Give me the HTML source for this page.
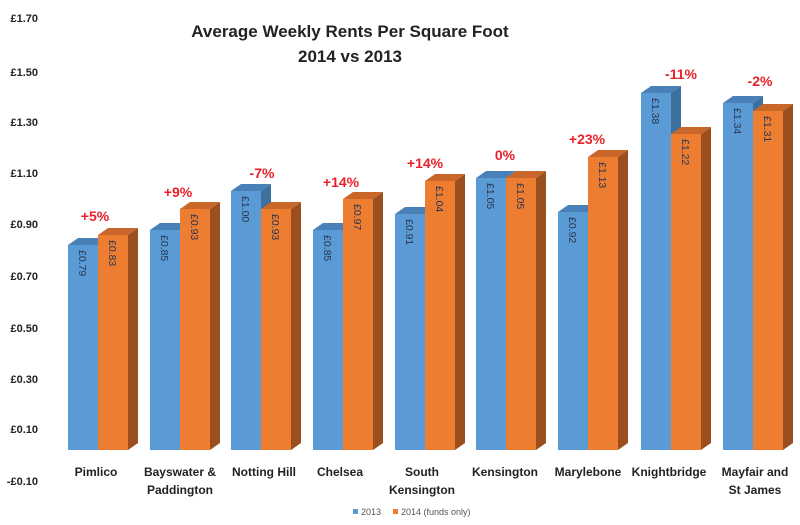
<!DOCTYPE html>
<html><head><meta charset="utf-8"><style>
body{margin:0;background:#fff}
svg{display:block;font-family:"Liberation Sans",sans-serif}
.ax{font-size:11px;font-weight:bold;fill:#222;text-anchor:end}
.cat{font-size:12px;font-weight:bold;fill:#222;text-anchor:middle}
.pc{font-size:14px;font-weight:bold;fill:#e8202a;text-anchor:middle}
.v{font-size:10.5px;fill:#2a3550}
</style></head><body>
<svg width="800" height="525" viewBox="0 0 800 525">
<rect width="800" height="525" fill="#fff"/>
<text x="350" y="37" text-anchor="middle" font-size="17" font-weight="bold" fill="#222">Average Weekly Rents Per Square Foot</text>
<text x="350" y="62" text-anchor="middle" font-size="17" font-weight="bold" fill="#222">2014 vs 2013</text>
<g class="ax">
<text x="38" y="22">£1.70</text><text x="38" y="76">£1.50</text><text x="38" y="126">£1.30</text><text x="38" y="177">£1.10</text><text x="38" y="228">£0.90</text><text x="38" y="280">£0.70</text><text x="38" y="332">£0.50</text><text x="38" y="383">£0.30</text><text x="38" y="433">£0.10</text><text x="38" y="485">-£0.10</text>
</g>
<g id="bars">
<!-- group helper: blue side, blue top, blue front, orange side, orange top, orange front -->
<!-- Pimlico x0=68 b=245 o=235 -->
<polygon points="98,245 108,238 108,443 98,450" fill="#3d6f9f"/><polygon points="68,245 78,238 108,238 98,245" fill="#4a80b8"/><rect x="68" y="245" width="30" height="205" fill="#5b9bd5"/>
<polygon points="128,235 138,228 138,443 128,450" fill="#9c4f1e"/><polygon points="98,235 108,228 138,228 128,235" fill="#c9672a"/><rect x="98" y="235" width="30" height="215" fill="#ed7d31"/>
<!-- Bayswater x0=150 b=230 o=209 -->
<polygon points="180,230 190,223 190,443 180,450" fill="#3d6f9f"/><polygon points="150,230 160,223 190,223 180,230" fill="#4a80b8"/><rect x="150" y="230" width="30" height="220" fill="#5b9bd5"/>
<polygon points="210,209 220,202 220,443 210,450" fill="#9c4f1e"/><polygon points="180,209 190,202 220,202 210,209" fill="#c9672a"/><rect x="180" y="209" width="30" height="241" fill="#ed7d31"/>
<!-- Notting x0=231 b=191 o=209 -->
<polygon points="261,191 271,184 271,443 261,450" fill="#3d6f9f"/><polygon points="231,191 241,184 271,184 261,191" fill="#4a80b8"/><rect x="231" y="191" width="30" height="259" fill="#5b9bd5"/>
<polygon points="291,209 301,202 301,443 291,450" fill="#9c4f1e"/><polygon points="261,209 271,202 301,202 291,209" fill="#c9672a"/><rect x="261" y="209" width="30" height="241" fill="#ed7d31"/>
<!-- Chelsea x0=313 b=230 o=199 -->
<polygon points="343,230 353,223 353,443 343,450" fill="#3d6f9f"/><polygon points="313,230 323,223 353,223 343,230" fill="#4a80b8"/><rect x="313" y="230" width="30" height="220" fill="#5b9bd5"/>
<polygon points="373,199 383,192 383,443 373,450" fill="#9c4f1e"/><polygon points="343,199 353,192 383,192 373,199" fill="#c9672a"/><rect x="343" y="199" width="30" height="251" fill="#ed7d31"/>
<!-- S Ken x0=395 b=214 o=181 -->
<polygon points="425,214 435,207 435,443 425,450" fill="#3d6f9f"/><polygon points="395,214 405,207 435,207 425,214" fill="#4a80b8"/><rect x="395" y="214" width="30" height="236" fill="#5b9bd5"/>
<polygon points="455,181 465,174 465,443 455,450" fill="#9c4f1e"/><polygon points="425,181 435,174 465,174 455,181" fill="#c9672a"/><rect x="425" y="181" width="30" height="269" fill="#ed7d31"/>
<!-- Kens x0=476 b=178 o=178 -->
<polygon points="506,178 516,171 516,443 506,450" fill="#3d6f9f"/><polygon points="476,178 486,171 516,171 506,178" fill="#4a80b8"/><rect x="476" y="178" width="30" height="272" fill="#5b9bd5"/>
<polygon points="536,178 546,171 546,443 536,450" fill="#9c4f1e"/><polygon points="506,178 516,171 546,171 536,178" fill="#c9672a"/><rect x="506" y="178" width="30" height="272" fill="#ed7d31"/>
<!-- Maryl x0=558 b=212 o=157 -->
<polygon points="588,212 598,205 598,443 588,450" fill="#3d6f9f"/><polygon points="558,212 568,205 598,205 588,212" fill="#4a80b8"/><rect x="558" y="212" width="30" height="238" fill="#5b9bd5"/>
<polygon points="618,157 628,150 628,443 618,450" fill="#9c4f1e"/><polygon points="588,157 598,150 628,150 618,157" fill="#c9672a"/><rect x="588" y="157" width="30" height="293" fill="#ed7d31"/>
<!-- Knight x0=641 b=93 o=134 -->
<polygon points="671,93 681,86 681,443 671,450" fill="#3d6f9f"/><polygon points="641,93 651,86 681,86 671,93" fill="#4a80b8"/><rect x="641" y="93" width="30" height="357" fill="#5b9bd5"/>
<polygon points="701,134 711,127 711,443 701,450" fill="#9c4f1e"/><polygon points="671,134 681,127 711,127 701,134" fill="#c9672a"/><rect x="671" y="134" width="30" height="316" fill="#ed7d31"/>
<!-- Mayfair x0=723 b=103 o=111 -->
<polygon points="753,103 763,96 763,443 753,450" fill="#3d6f9f"/><polygon points="723,103 733,96 763,96 753,103" fill="#4a80b8"/><rect x="723" y="103" width="30" height="347" fill="#5b9bd5"/>
<polygon points="783,111 793,104 793,443 783,450" fill="#9c4f1e"/><polygon points="753,111 763,104 793,104 783,111" fill="#c9672a"/><rect x="753" y="111" width="30" height="339" fill="#ed7d31"/>
</g>
<g class="v">
<text transform="translate(79,250) rotate(90)">£0.79</text><text transform="translate(109,240) rotate(90)">£0.83</text>
<text transform="translate(161,235) rotate(90)">£0.85</text><text transform="translate(191,214) rotate(90)">£0.93</text>
<text transform="translate(242,196) rotate(90)">£1.00</text><text transform="translate(272,214) rotate(90)">£0.93</text>
<text transform="translate(324,235) rotate(90)">£0.85</text><text transform="translate(354,204) rotate(90)">£0.97</text>
<text transform="translate(406,219) rotate(90)">£0.91</text><text transform="translate(436,186) rotate(90)">£1.04</text>
<text transform="translate(487,183) rotate(90)">£1.05</text><text transform="translate(517,183) rotate(90)">£1.05</text>
<text transform="translate(569,217) rotate(90)">£0.92</text><text transform="translate(599,162) rotate(90)">£1.13</text>
<text transform="translate(652,98) rotate(90)">£1.38</text><text transform="translate(682,139) rotate(90)">£1.22</text>
<text transform="translate(734,108) rotate(90)">£1.34</text><text transform="translate(764,116) rotate(90)">£1.31</text>
</g>
<g class="pc">
<text x="95" y="221">+5%</text><text x="178" y="197">+9%</text><text x="262" y="178">-7%</text><text x="341" y="187">+14%</text><text x="425" y="168">+14%</text><text x="505" y="160">0%</text><text x="587" y="144">+23%</text><text x="681" y="79">-11%</text><text x="760" y="86">-2%</text>
</g>
<g class="cat">
<text x="96" y="476">Pimlico</text>
<text x="180" y="476">Bayswater &amp;</text><text x="180" y="494">Paddington</text>
<text x="264" y="476">Notting Hill</text>
<text x="340" y="476">Chelsea</text>
<text x="422" y="476">South</text><text x="422" y="494">Kensington</text>
<text x="505" y="476">Kensington</text>
<text x="588" y="476">Marylebone</text>
<text x="669" y="476">Knightbridge</text>
<text x="755" y="476">Mayfair and</text><text x="755" y="494">St James</text>
</g>
<rect x="353" y="509" width="5" height="5" fill="#5b9bd5"/>
<text x="361" y="515" font-size="9" fill="#555">2013</text>
<rect x="393" y="509" width="5" height="5" fill="#ed7d31"/>
<text x="401" y="515" font-size="9" fill="#555">2014 (funds only)</text>
</svg>
</body></html>
